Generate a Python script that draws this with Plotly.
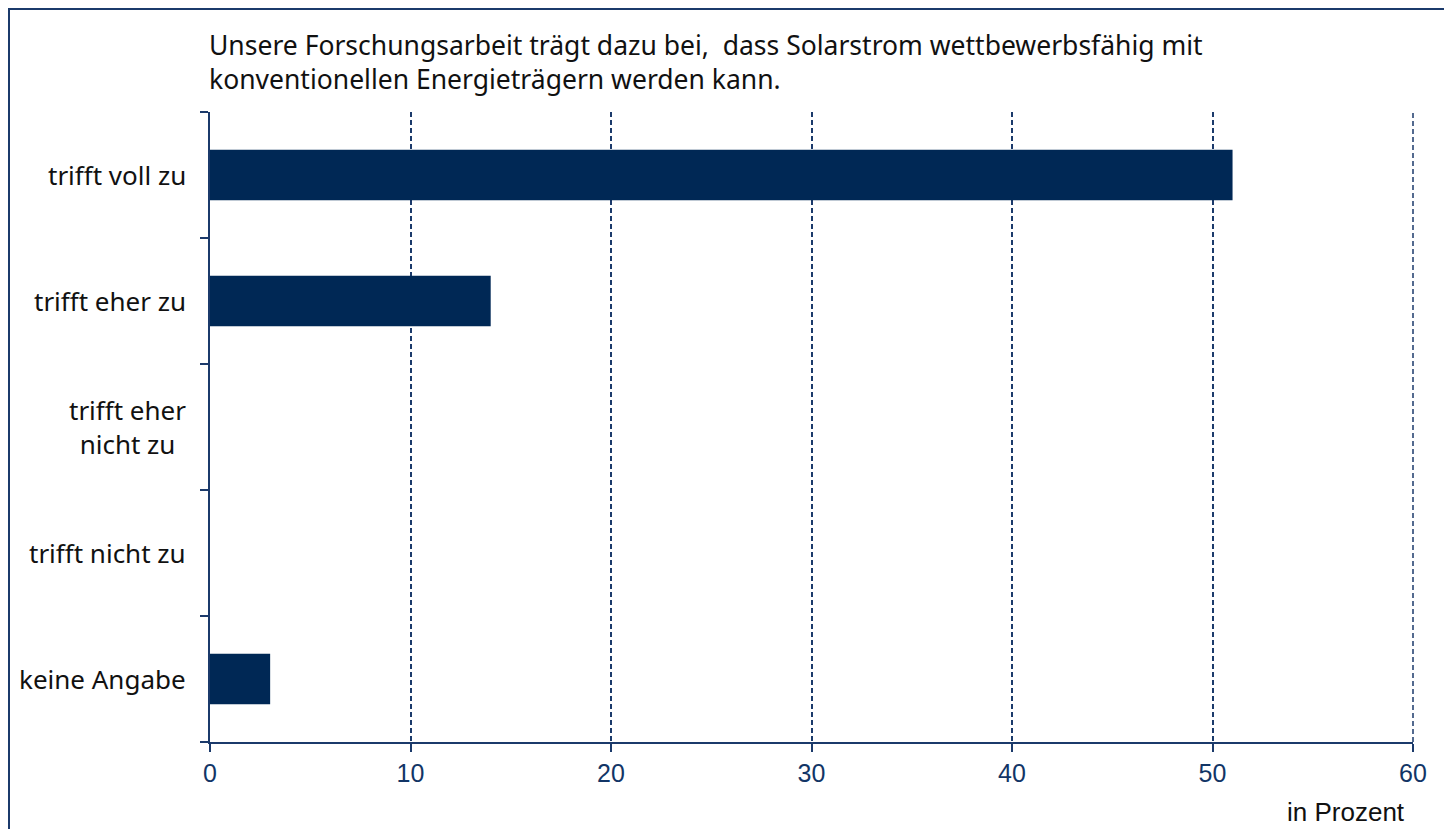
import plotly.graph_objects as go

categories = ["trifft voll zu", "trifft eher zu", "trifft eher<br>nicht zu", "trifft nicht zu", "keine Angabe"]
values = [51, 14, 0, 0, 3]
x_ticks = [0, 10, 20, 30, 40, 50, 60]
title_lines = [
    "Unsere Forschungsarbeit trägt dazu bei,  dass Solarstrom wettbewerbsfähig mit",
    "konventionellen Energieträgern werden kann.",
]
unit_text = "in Prozent"

# page is offset by the 8px body margin
OFF = 8
W, H = 1452 - OFF, 829 - OFF
L, R, T, B = 210 - OFF, 39, 112 - OFF, 87
pw, ph = W - L - R, H - T - B

BAR = "#002855"
AXIS = "#1b3a6b"
TXT_FONT = "Noto Sans"
LBL_SIZE = 26
TITLE_SIZE = 26.5


def py(page_y):
    """page pixel y -> paper y"""
    fy = page_y - OFF
    return (H - B - fy) / ph


def px(page_x):
    fx = page_x - OFF
    return (fx - L) / pw


fig = go.Figure()
fig.add_trace(go.Bar(
    x=values, y=categories, orientation="h",
    marker=dict(color=BAR, line=dict(width=0)),
    hoverinfo="x+y",
))

fig.update_layout(
    width=W, height=H,
    margin=dict(l=L, r=R, t=T, b=B, pad=0),
    paper_bgcolor="white", plot_bgcolor="white",
    bargap=0.6,
    showlegend=False,
    xaxis=dict(
        range=[0, 60], tickvals=x_ticks, ticktext=[str(v) for v in x_ticks],
        showgrid=True, gridcolor=AXIS, gridwidth=1.5, griddash="5px,3px",
        zeroline=False, showline=True, linecolor=AXIS, linewidth=2,
        ticks="outside", ticklen=8, tickwidth=2, tickcolor=AXIS,
        tickfont=dict(family="Liberation Sans, Arial", size=25, color="#123566"),
        fixedrange=True,
    ),
    yaxis=dict(
        type="category", categoryorder="array", categoryarray=categories[::-1],
        autorange=False, range=[-0.5, 4.5],
        tickson="boundaries", ticks="outside", ticklen=8, tickwidth=2, tickcolor=AXIS,
        showticklabels=False, showgrid=False, zeroline=False,
        showline=True, linecolor=AXIS, linewidth=2,
        fixedrange=True,
    ),
)

# gridline at the right edge of the axis range (plotly hides grid lines on the range edge)
fig.add_shape(
    type="line", xref="paper", yref="paper", x0=1, x1=1, y0=0, y1=1,
    line=dict(color=AXIS, width=1.5, dash="5px,3px"), layer="above",
)

for c in categories:
    fig.add_annotation(
        x=0, xref="paper", xanchor="right", xshift=-22,
        y=c, yref="y", yanchor="middle",
        text=c, showarrow=False, align="center",
        font=dict(family=TXT_FONT, size=LBL_SIZE, color="#111111"),
    )

fig.add_annotation(
    x=0, xref="paper", xanchor="left", xshift=-3,
    y=py(62), yref="paper", yanchor="middle",
    text="<br>".join(title_lines), showarrow=False, align="left",
    font=dict(family=TXT_FONT, size=TITLE_SIZE, color="#111111"),
)

fig.add_annotation(
    x=1, xref="paper", xanchor="right", xshift=-6,
    y=py(812), yref="paper", yanchor="middle",
    text=unit_text, showarrow=False,
    font=dict(family="Liberation Sans, Arial", size=26, color="#111111"),
)

# outer frame
fig.add_shape(
    type="rect", xref="paper", yref="paper",
    x0=px(9), x1=px(1452 + 30),
    y0=py(829 + 30), y1=py(9),
    line=dict(color=AXIS, width=2), fillcolor="rgba(0,0,0,0)", layer="above",
)

fig.write_html("out.html", config={"displayModeBar": False})
